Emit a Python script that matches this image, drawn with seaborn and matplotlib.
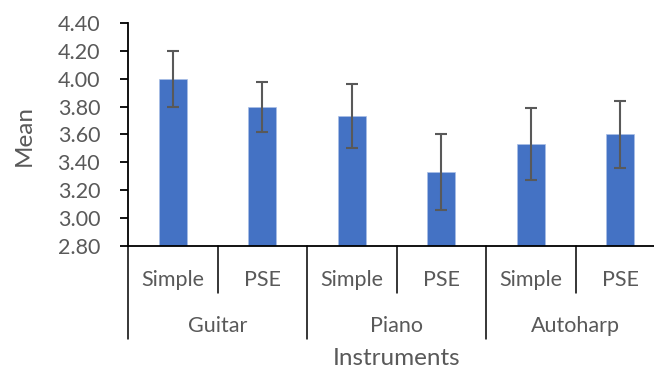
import pandas as pd
import matplotlib.pyplot as plt
import matplotlib.transforms as mtransforms
import seaborn as sns

groups = ['Guitar', 'Piano', 'Autoharp']
methods = ['Simple', 'PSE']
means = [4.00, 3.80, 3.73, 3.33, 3.53, 3.60]
errors = [0.20, 0.18, 0.23, 0.27, 0.26, 0.24]
yticks = [2.80, 3.00, 3.20, 3.40, 3.60, 3.80, 4.00, 4.20, 4.40]

rows = []
for gi, g in enumerate(groups):
    for mi, m in enumerate(methods):
        rows.append({'group': g, 'method': m, 'key': g + ' ' + m,
                     'mean': means[gi * 2 + mi], 'err': errors[gi * 2 + mi]})
df = pd.DataFrame(rows)

sns.set_style('white')
plt.rcParams['font.family'] = ['Lato', 'DejaVu Sans']
grey = '#595959'

fig = plt.figure(figsize=(6.54, 3.69), dpi=100)
W, H = 654, 369
ax = fig.add_axes([128 / W, 1 - 246 / H, 537 / W, 223 / H])

sns.barplot(data=df, x='key', y='mean', order=df['key'], color='#4472C4',
            saturation=1, width=0.31, edgecolor='#a9bfe6', linewidth=0.5, ax=ax)

xs = [p.get_x() + p.get_width() / 2 for p in ax.patches]
ax.errorbar(xs, df['mean'], yerr=df['err'], fmt='none', ecolor=grey,
            elinewidth=1.5, capsize=4.5, capthick=1.5)

ax.set_ylim(2.80, 4.40)
ax.set_xlim(-0.5, len(df) - 0.5)
ax.set_yticks(yticks)
ax.set_yticklabels([f'{v:.2f}' for v in yticks], color=grey, fontsize=15.5)
ax.tick_params(axis='y', length=6, width=1.3, color='black', direction='out', left=True, pad=14)
ax.tick_params(axis='x', length=0)
ax.set_xticks([])
ax.set_xlabel('')
ax.set_ylabel('')

for side in ['top', 'right']:
    ax.spines[side].set_visible(False)
for side in ['left', 'bottom']:
    ax.spines[side].set_color('black')
    ax.spines[side].set_linewidth(1.3)

# multi-level category axis: separators and labels below the plot
trans = mtransforms.blended_transform_factory(ax.transData, ax.transAxes)
n = len(df)
for i in range(n + 1):
    bottom = -0.417 if i % 2 == 0 else -0.211
    ax.plot([i - 0.5, i - 0.5], [0, bottom], color='black', lw=1.1,
            transform=trans, clip_on=False)

for i, m in enumerate(df['method']):
    ax.text(i, -0.178, m, transform=trans, ha='center', va='baseline',
            color=grey, fontsize=15.5)
for gi, g in enumerate(groups):
    ax.text(gi * 2 + 0.5, -0.384, g, transform=trans, ha='center', va='baseline',
            color=grey, fontsize=15.5)

ax.text((n - 1) / 2, -0.535, 'Instruments', transform=trans, ha='center', va='baseline',
        color=grey, fontsize=17.5)
fig.text(24 / W, 1 - 135 / H, 'Mean', rotation=90, ha='center', va='center',
         color=grey, fontsize=17.5)

fig.savefig('out.png', dpi=100)
